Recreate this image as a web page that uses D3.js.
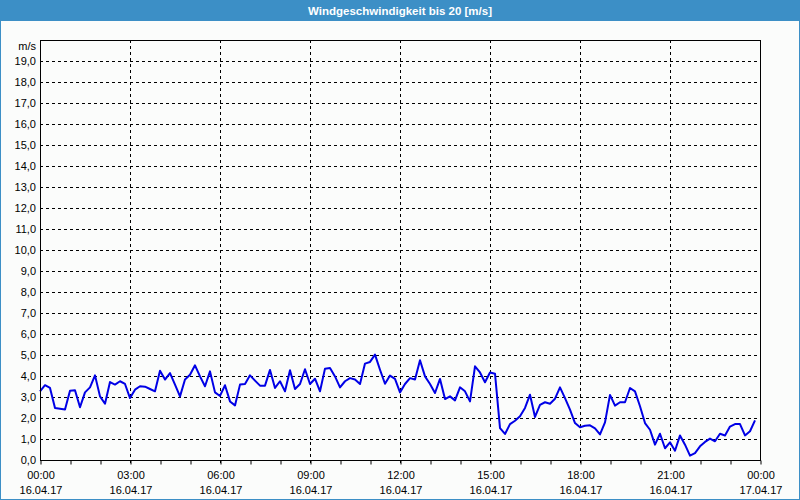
<!DOCTYPE html>
<html>
<head>
<meta charset="utf-8">
<script src="https://cdn.jsdelivr.net/npm/d3@7/dist/d3.min.js"></script>
<style>
  html, body { margin: 0; padding: 0; background: #fbfcfb; }
  svg { display: block; font-family: 'Liberation Sans', Arial, sans-serif; }
</style>
</head>
<body>
<div id="chart"></div>
<script>
let width = 800;
let height = 500;

let title = 'Windgeschwindigkeit bis 20 [m/s]';
let unitLabel = 'm/s';
let startTime = '2017-04-16T00:00:00';
let endTime = '2017-04-17T00:00:00';
let stepMinutes = 10;

// wind speed in m/s, one value every 10 minutes from 00:00
let windSpeed = [
  3.27, 3.56, 3.43, 2.48, 2.44, 2.40, 3.30, 3.32, 2.51, 3.22, 3.46, 4.03,
  3.03, 2.68, 3.71, 3.59, 3.75, 3.62, 2.95, 3.35, 3.51, 3.49, 3.38, 3.27,
  4.25, 3.83, 4.14, 3.59, 3.03, 3.83, 4.06, 4.51, 3.98, 3.51, 4.22, 3.22,
  3.05, 3.56, 2.79, 2.60, 3.59, 3.62, 4.03, 3.78, 3.54, 3.54, 4.29, 3.43,
  3.75, 3.27, 4.27, 3.38, 3.62, 4.32, 3.62, 3.87, 3.27, 4.35, 4.38, 3.98,
  3.46, 3.75, 3.90, 3.83, 3.62, 4.59, 4.67, 5.02, 4.30, 3.63, 4.02, 3.86,
  3.22, 3.62, 3.90, 3.83, 4.75, 3.98, 3.62, 3.19, 3.86, 2.90, 3.03, 2.84,
  3.46, 3.27, 2.79, 4.46, 4.17, 3.70, 4.17, 4.11, 1.52, 1.24, 1.71, 1.87,
  2.08, 2.48, 3.11, 2.05, 2.63, 2.75, 2.68, 2.92, 3.46, 2.95, 2.40, 1.76,
  1.56, 1.63, 1.65, 1.51, 1.22, 1.79, 3.10, 2.59, 2.75, 2.75, 3.43, 3.27,
  2.56, 1.76, 1.44, 0.73, 1.25, 0.56, 0.84, 0.44, 1.17, 0.73, 0.21, 0.33,
  0.65, 0.86, 1.02, 0.89, 1.25, 1.17, 1.59, 1.71, 1.71, 1.17, 1.37, 1.89
];

let yTicks = d3.range(0, 20, 1);
let yMax = 20;

let margin = { top: 40, right: 40, bottom: 40, left: 40 };

let svg = d3.select('#chart')
  .append('svg')
  .attr('width', width)
  .attr('height', height);

// outer frame + title bar
svg.append('rect')
  .attr('x', 0.5)
  .attr('y', 0.5)
  .attr('width', width - 1)
  .attr('height', height - 1)
  .attr('fill', '#fbfcfb')
  .attr('stroke', '#3c8fc6');

svg.append('rect')
  .attr('x', 0)
  .attr('y', 0)
  .attr('width', width)
  .attr('height', 21)
  .attr('fill', '#3c8fc6');

svg.append('text')
  .attr('x', width / 2)
  .attr('y', 14.5)
  .attr('text-anchor', 'middle')
  .attr('fill', 'white')
  .style('font-size', '11.5px')
  .style('font-weight', 'bold')
  .text(title);

let parseTime = d3.isoParse;
let t0 = parseTime(startTime);
let data = windSpeed.map(function(v, i) {
  return { time: new Date(t0.getTime() + i * stepMinutes * 60000), value: v };
});

let x = d3.scaleTime()
  .domain([t0, parseTime(endTime)])
  .range([margin.left, width - margin.right]);

let y = d3.scaleLinear()
  .domain([0, yMax])
  .range([height - margin.bottom, margin.top]);

let plotW = width - margin.left - margin.right;
let plotH = height - margin.top - margin.bottom;

// horizontal grid
svg.append('g')
  .selectAll('line')
  .data(yTicks.filter(function(d) { return d > 0; }))
  .enter()
  .append('line')
  .attr('x1', margin.left)
  .attr('x2', width - margin.right)
  .attr('y1', function(d) { return Math.round(y(d)) + 0.5; })
  .attr('y2', function(d) { return Math.round(y(d)) + 0.5; })
  .attr('stroke', '#000')
  .attr('stroke-dasharray', '3,3');

// vertical grid every 3 hours
let majorTimes = d3.timeHour.every(3).range(t0, parseTime(endTime));
majorTimes.push(parseTime(endTime));

svg.append('g')
  .selectAll('line')
  .data(majorTimes.slice(1, -1))
  .enter()
  .append('line')
  .attr('x1', function(d) { return Math.round(x(d)) + 0.5; })
  .attr('x2', function(d) { return Math.round(x(d)) + 0.5; })
  .attr('y1', margin.top)
  .attr('y2', height - margin.bottom + 5)
  .attr('stroke', '#000')
  .attr('stroke-dasharray', '3,3');

// hourly ticks under the axis
let xAxis = d3.axisBottom(x)
  .ticks(d3.timeHour.every(1))
  .tickSize(4)
  .tickFormat('');

svg.append('g')
  .attr('transform', 'translate(0.5,' + (height - margin.bottom + 0.5) + ')')
  .call(xAxis)
  .call(function(g) { g.select('.domain').remove(); })
  .selectAll('line')
  .attr('stroke', '#000');

// x labels, two lines
let fmtTime = d3.timeFormat('%H:%M');
let fmtDate = d3.timeFormat('%d.%m.%y');

let xLabels = svg.append('g')
  .selectAll('text')
  .data(majorTimes)
  .enter()
  .append('text')
  .attr('text-anchor', 'middle')
  .attr('fill', '#000')
  .style('font-size', '11px');

xLabels.append('tspan')
  .attr('x', function(d) { return x(d) + 1; })
  .attr('y', 479)
  .text(fmtTime);

xLabels.append('tspan')
  .attr('x', function(d) { return x(d) + 1; })
  .attr('y', 494)
  .text(fmtDate);

// y labels
svg.append('g')
  .selectAll('text')
  .data(yTicks)
  .enter()
  .append('text')
  .attr('x', margin.left - 4)
  .attr('y', function(d) { return y(d) + 4; })
  .attr('text-anchor', 'end')
  .attr('fill', '#000')
  .style('font-size', '11px')
  .text(function(d) { return d.toFixed(1).replace('.', ','); });

svg.append('text')
  .attr('x', margin.left - 4)
  .attr('y', 50)
  .attr('text-anchor', 'end')
  .attr('fill', '#000')
  .style('font-size', '11px')
  .text(unitLabel);

// data line
let line = d3.line()
  .x(function(d) { return x(d.time); })
  .y(function(d) { return y(d.value); });

svg.append('path')
  .datum(data)
  .attr('d', line)
  .attr('fill', 'none')
  .attr('stroke', '#0000e6')
  .attr('stroke-width', 2)
  .attr('stroke-linejoin', 'round');

// plot frame
svg.append('rect')
  .attr('x', margin.left + 0.5)
  .attr('y', margin.top + 0.5)
  .attr('width', plotW)
  .attr('height', plotH)
  .attr('fill', 'none')
  .attr('stroke', '#000');
</script>
</body>
</html>
